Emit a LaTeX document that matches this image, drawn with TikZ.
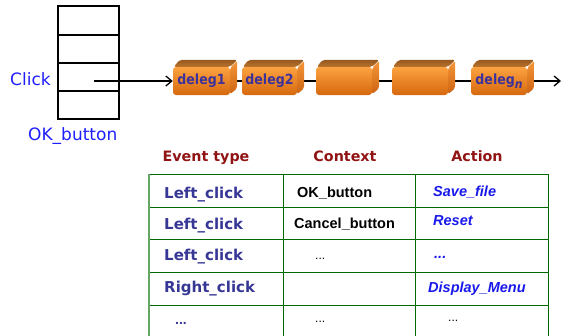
\documentclass[tikz,border=0pt]{standalone}
\usepackage{fontspec}
\setmainfont{Liberation Sans}
\newfontfamily\dejavu{DejaVu Sans}
\newfontfamily\dejacond{DejaVu Sans Condensed}
\usetikzlibrary{arrows.meta}
\pgfdeclarelayer{background}
\pgfsetlayers{background,main}

\definecolor{hdrred}{RGB}{145,20,20}
\definecolor{evtblue}{RGB}{55,55,150}
\definecolor{actblue}{RGB}{25,25,235}
\definecolor{clickblue}{RGB}{30,30,255}
\definecolor{gridgreen}{RGB}{0,105,0}
\definecolor{edgegreen}{RGB}{100,165,100}
\definecolor{orangetop}{RGB}{252,162,64}
\definecolor{orangebot}{RGB}{214,104,14}
\definecolor{roofdark}{RGB}{150,88,30}
\definecolor{rooflight}{RGB}{185,115,45}
\definecolor{sidetop}{RGB}{245,150,55}
\definecolor{sidebot}{RGB}{205,100,20}
\definecolor{delegtext}{RGB}{60,50,155}

\tikzset{
  cell/.style={draw, line width=1.3pt, minimum width=61pt, inner sep=0pt},
  delegbox/.style={rounded corners=3pt, top color=orangetop, bottom color=orangebot,
    minimum width=57pt, minimum height=28pt, inner sep=0pt,
    font=\dejacond\bfseries\fontsize{14}{16}\selectfont, text=delegtext},
  roof/.style={top color=roofdark, bottom color=rooflight},
  side/.style={top color=sidetop, bottom color=sidebot},
  flow/.style={line width=1.3pt},
  flowarrow/.style={flow, -{Straight Barb[length=6pt,width=10pt,line width=1.3pt]}},
  comic/.style={font=\dejavu\fontsize{17}{20}\selectfont, text=clickblue, inner sep=0pt},
  header/.style={font=\dejavu\bfseries\fontsize{14.3}{17}\selectfont, text=hdrred, inner sep=0pt, anchor=base},
  evt/.style={font=\dejavu\bfseries\fontsize{15}{18}\selectfont, text=evtblue, inner sep=0pt, anchor=base west},
  ctx/.style={font=\bfseries\fontsize{14.5}{17}\selectfont, text=black, inner sep=0pt, anchor=base west},
  act/.style={font=\bfseries\itshape\fontsize{14.5}{17}\selectfont, text=actblue, inner sep=0pt, anchor=base west},
  dots/.style={font=\fontsize{12}{14}\selectfont, inner sep=0pt, anchor=base west},
  gridline/.style={draw=gridgreen, line width=1pt},
}

\begin{document}
\begin{tikzpicture}[x=1pt, y=-1pt]
\useasboundingbox (0,0) rectangle (561,335);

% the stack of handler slots
\node[cell, minimum height=29pt] (s1) at (88.5,20.5) {};
\node[cell, minimum height=28pt] (s2) at (88.5,49) {};
\node[cell, minimum height=28pt] (s3) at (88.5,77) {};
\node[cell, minimum height=28pt] (s4) at (88.5,105) {};
\coordinate (src) at (94,81);

\node[comic, anchor=base west] (click) at (10,85) {Click};
\node[comic, anchor=base west] (okb) at (28,140) {OK\_button};

% chain of delegates (front faces)
\node[delegbox] (d1) at (201.5,81) {deleg1};
\node[delegbox, minimum width=55pt] (d2) at (269.5,81) {deleg2};
\node[delegbox, minimum width=56pt] (d3) at (344,81) {};
\node[delegbox, minimum width=56pt] (d4) at (420,81) {};
\node[delegbox, minimum width=56pt] (d5) at (499,81) {deleg\raisebox{-4pt}{\itshape\fontsize{12}{13}\selectfont n}};
\coordinate (out) at (561,81);

\begin{pgfonlayer}{background}
  \draw[flowarrow] (src) -- (d1);
  \draw[flow] (d1) -- (d2);
  \draw[flow] (d2) -- (d3);
  \draw[flow] (d3) -- (d4);
  \draw[flow] (d4) -- (d5);
  \draw[flowarrow] (d5) -- (out);
  \foreach \b in {d1,d2,d3,d4,d5}{
    \path[roof, rounded corners=2pt] ([xshift=1pt]\b.north west) -- ++(6,-7) -- ([xshift=7pt,yshift=7pt]\b.north east) -- (\b.north east) -- cycle;
    \path[side, rounded corners=2pt] ([yshift=-1pt]\b.north east) -- ++(7,-7) -- ([xshift=7pt,yshift=7pt]\b.south east) -- ([yshift=1pt]\b.south east) -- cycle;
  }
\end{pgfonlayer}

% dispatch table
\node[header] (h1) at (206,161) {Event type};
\node[header] (h2) at (345,161) {Context};
\node[header] (h3) at (477,161) {Action};

\draw[gridline] (149,174) -- (548,174);
\foreach \y in {207,239.5,272,305}{ \draw[gridline] (149,\y) -- (548,\y); }
\draw[gridline] (283,174) -- (283,336);
\draw[gridline] (415,174) -- (415,336);
\draw[gridline] (548,174) -- (548,336);
\draw[draw=edgegreen, line width=1.3pt] (149,174) -- (149,336);

\node[evt] (e1) at (164,198) {Left\_click};
\node[ctx] (c1) at (297,197) {OK\_button};
\node[act] (a1) at (433,196) {Save\_file};

\node[evt] (e2) at (164,229) {Left\_click};
\node[ctx] (c2) at (294,228) {Cancel\_button};
\node[act] (a2) at (433,225) {Reset};

\node[evt] (e3) at (164,260) {Left\_click};
\node[dots] (c3) at (315,259) {...};
\node[act] (a3) at (434,258) {...};

\node[evt] (e4) at (164,292) {Right\_click};
\node[act] (a4) at (428,292) {Display\_Menu};

\node[dots, font=\bfseries\fontsize{14}{16}\selectfont, text=evtblue] (e5) at (175,324) {...};
\node[dots] (c5) at (315,322) {...};
\node[dots] (a5) at (448,321) {...};
\end{tikzpicture}
\end{document}
